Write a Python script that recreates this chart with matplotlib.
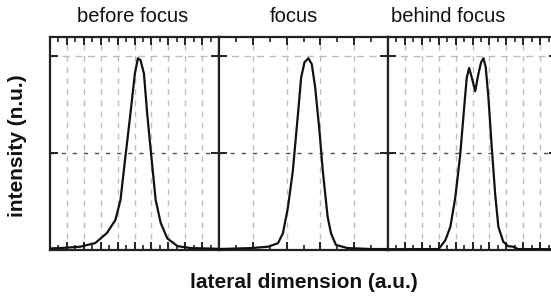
import matplotlib
matplotlib.use("Agg")
import matplotlib.pyplot as plt
from matplotlib.ticker import MultipleLocator

plt.rcParams['font.family'] = ['Liberation Sans', 'DejaVu Sans']

titles = ["before focus", "focus", "behind focus"]

x_before = [0.0, 0.6, 1.79, 2.68, 3.37, 3.87, 4.17, 4.46, 4.76, 5.02, 5.2, 5.36, 5.56, 5.75, 6.0, 6.25, 6.55, 6.94, 7.54, 8.33, 10.0]
y_before = [0.008, 0.01, 0.017, 0.036, 0.088, 0.155, 0.258, 0.48, 0.705, 0.91, 0.99, 0.98, 0.91, 0.705, 0.48, 0.26, 0.14, 0.06, 0.02, 0.01, 0.006]

x_focus = [0.0, 1.92, 2.9, 3.49, 3.78, 4.08, 4.37, 4.67, 4.86, 5.06, 5.29, 5.49, 5.69, 5.94, 6.14, 6.43, 6.63, 6.92, 7.6, 9.0, 10.0]
y_focus = [0.005, 0.01, 0.017, 0.035, 0.086, 0.22, 0.41, 0.70, 0.89, 0.97, 0.99, 0.96, 0.84, 0.62, 0.41, 0.17, 0.086, 0.026, 0.01, 0.005, 0.005]

x_behind = [0.0, 3.0, 3.39, 3.69, 3.98, 4.27, 4.53, 4.66, 4.8, 4.96, 5.16, 5.35, 5.51, 5.65, 5.78, 5.94, 6.14, 6.34, 6.53, 6.82, 7.1, 7.4, 7.7, 10.0]
y_behind = [0.004, 0.005, 0.05, 0.12, 0.27, 0.49, 0.76, 0.89, 0.94, 0.89, 0.82, 0.91, 0.97, 0.99, 0.945, 0.79, 0.53, 0.29, 0.12, 0.043, 0.02, 0.017, 0.005, 0.004]

xs = [x_before, x_focus, x_behind]
ys = [y_before, y_focus, y_behind]
grid_steps = [1, 2, 1]
title_x = [133, 294, 448]

W, H = 551, 298
fig = plt.figure(figsize=(W/100, H/100), dpi=100)

lefts = [50, 219, 388]
width = 169
bottom, top = 250, 37
spine_col = '#222222'

for i in range(3):
    ax = fig.add_axes([lefts[i]/W, 1 - bottom/H, width/W, (bottom-top)/H])
    ax.set_xlim(0, 10)
    ax.set_ylim(0, 1.1)
    step = grid_steps[i]
    ax.xaxis.set_major_locator(MultipleLocator(step))
    ax.xaxis.set_minor_locator(MultipleLocator(0.5 if step == 1 else 1))
    ax.yaxis.set_major_locator(MultipleLocator(0.5))
    for xv in range(step, 10, step):
        ax.axvline(xv, color='#bdbdbd', lw=1.0, ls=(0, (4, 4)), zorder=1)
    ax.axhline(1.0, color='#bdbdbd', lw=1.0, ls=(0, (5, 4)), zorder=1)
    ax.axhline(0.5, color='#505050', lw=1.0, ls=(0, (3, 5)), zorder=1)
    ax.plot(xs[i], ys[i], color='#111111', lw=1.6, zorder=3)
    ax.tick_params(axis='both', which='major', direction='in', length=6, width=1.4,
                   top=True, right=True, color=spine_col,
                   labelbottom=False, labelleft=False)
    ax.tick_params(axis='both', which='minor', direction='in', length=3.5, width=1.2,
                   top=True, right=True, color=spine_col)
    for s in ax.spines.values():
        s.set_linewidth(1.6)
        s.set_color(spine_col)
    fig.text(title_x[i]/W, 1 - 16/H, titles[i], ha='center', va='center',
             fontsize=14.5, color='#111111')

fig.text(18/W, 1 - 146/H, "intensity (n.u.)", rotation=90, ha='center', va='center',
         fontsize=15, fontweight='bold', color='#111111')
fig.text(304/W, 1 - 283/H, "lateral dimension (a.u.)", ha='center', va='center',
         fontsize=15, fontweight='bold', color='#111111')

fig.savefig("out.png", dpi=100)
